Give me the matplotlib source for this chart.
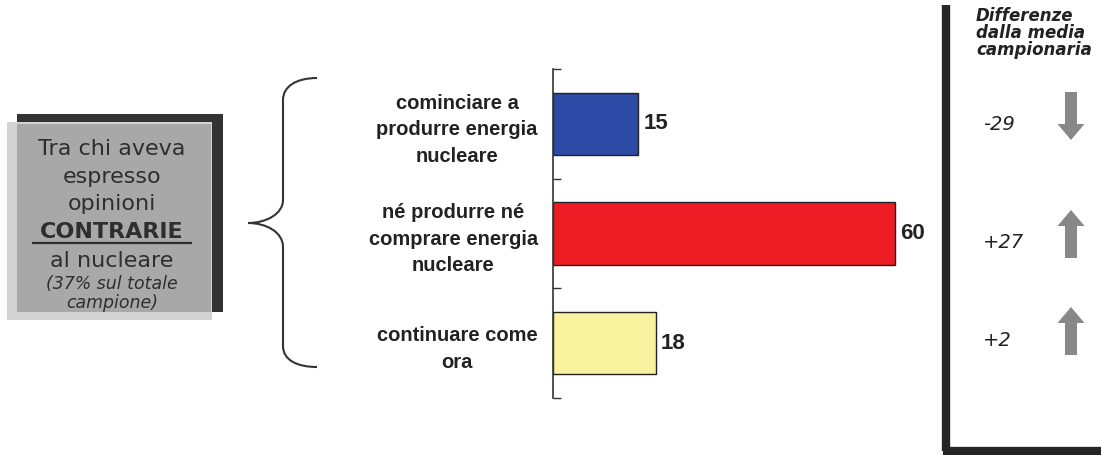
#!/usr/bin/env python3
"""
Opinioni contrarie al nucleare - bar chart with side panels
"""

import matplotlib
matplotlib.use('Agg')
import matplotlib.pyplot as plt
from matplotlib.patches import Rectangle, PathPatch
from matplotlib.path import Path

# Data
categories = ['cominciare a\nprodurre energia\nnucleare',
              'né produrre né\ncomprare energia\nnucleare',
              'continuare come\nora']
values = [15, 60, 18]
bar_colors = ['#2d4aa6', '#ee1c24', '#f8f29e']
differences = ['-29', '+27', '+2']
directions = [-1, 1, 1]

W, H = 1101, 455
fig = plt.figure(figsize=(W / 100, H / 100), dpi=100)

# Background axes in pixel coordinates for the decorations
bg = fig.add_axes([0, 0, 1, 1])
bg.set_xlim(0, W)
bg.set_ylim(H, 0)
bg.axis('off')

# Left box with dark shadow
bg.add_patch(Rectangle((17, 114), 206, 198, color='#333333', lw=0))
bg.add_patch(Rectangle((7, 122), 205, 198, color='#d3d3d3', lw=0))
bg.add_patch(Rectangle((17, 124), 194, 188, color='#a8a8a8', lw=0))

box_font = ['DejaVu Sans']
cx = 112
box_lines = [('Tra chi aveva', 155, 16, 'normal', 'normal'),
             ('espresso', 183, 16, 'normal', 'normal'),
             ('opinioni', 210, 16, 'normal', 'normal'),
             ('CONTRARIE', 238, 16, 'bold', 'normal'),
             ('al nucleare', 267, 16, 'normal', 'normal'),
             ('(37% sul totale', 289, 12.5, 'normal', 'italic'),
             ('campione)', 308, 12.5, 'normal', 'italic')]
for txt, y, fs, fw, st in box_lines:
    bg.text(cx, y, txt, ha='center', va='baseline', fontsize=fs,
            fontweight=fw, style=st, color='#2e2e2e', family=box_font)
bg.plot([33, 191], [243, 243], color='#2e2e2e', lw=1.6)

# Curly brace
verts = [(317, 78), (297, 78), (283, 86), (283, 100),
         (283, 200),
         (283, 214), (266, 223), (248, 223),
         (266, 223), (283, 232), (283, 247),
         (283, 346),
         (283, 360), (297, 367), (317, 367)]
codes = [Path.MOVETO, Path.CURVE4, Path.CURVE4, Path.CURVE4,
         Path.LINETO,
         Path.CURVE4, Path.CURVE4, Path.CURVE4,
         Path.CURVE4, Path.CURVE4, Path.CURVE4,
         Path.LINETO,
         Path.CURVE4, Path.CURVE4, Path.CURVE4]
bg.add_patch(PathPatch(Path(verts, codes), fill=False, ec='#333333', lw=1.5))

# Right panel frame
bg.plot([946, 946], [5, 451], color='#262626', lw=6, solid_capstyle='butt')
bg.plot([943, W], [451, 451], color='#262626', lw=6, solid_capstyle='butt')
bg.text(976, 7, 'Differenze\ndalla media\ncampionaria', ha='left', va='top',
        fontsize=12, fontweight='bold', style='italic', color='#222222',
        family=box_font, linespacing=0.92)

diff_y = [125, 243, 340]
for d, s, y in zip(differences, directions, diff_y):
    bg.text(983, y, d, ha='left', va='center', fontsize=14, style='italic',
            color='#222222', family=box_font)
    if s < 0:
        bg.arrow(1071, y - 33, 0, 48, width=12, head_width=27, head_length=16,
                 length_includes_head=True, color='#888888', lw=0)
    else:
        bg.arrow(1071, y + 15, 0, -48, width=12, head_width=27, head_length=16,
                 length_includes_head=True, color='#888888', lw=0)

# Main bar chart
ax = fig.add_axes([553 / W, (H - 398) / H, (940 - 553) / W, 329 / H])
ax.patch.set_alpha(0)
pos = range(len(values))
ax.barh(pos, values, height=0.57, color=bar_colors, edgecolor='#222222', lw=1)
for p, v in zip(pos, values):
    ax.text(v + 0.9, p, str(v), va='center', ha='left', fontsize=16,
            fontweight='bold', color='#222222', family=['Liberation Sans'])

ax.set_xlim(0, 67.9)
ax.set_ylim(2.5, -0.5)
ax.set_yticks(list(pos))
ax.set_yticklabels(categories, fontsize=14.5, fontweight='bold',
                   family=['Liberation Sans'], color='#222222')
for t in ax.get_yticklabels():
    t.set_multialignment('center')
    t.set_linespacing(1.5)
ax.set_yticks([-0.5, 0.5, 1.5, 2.5], minor=True)
ax.tick_params(axis='y', which='major', length=0, pad=11)
ax.tick_params(axis='y', which='minor', length=6, direction='in',
               color='#333333', width=1)
ax.set_xticks([])
for side in ['top', 'right', 'bottom']:
    ax.spines[side].set_visible(False)
ax.spines['left'].set_color('#333333')
ax.spines['left'].set_linewidth(1.2)

fig.savefig('out.png', dpi=100)
